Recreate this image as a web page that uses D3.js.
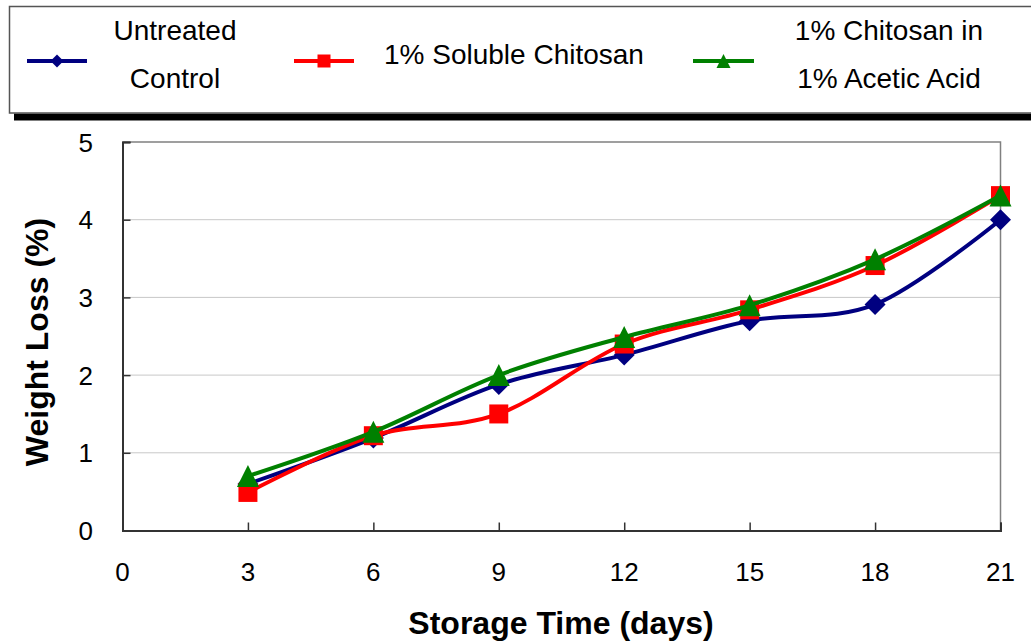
<!DOCTYPE html>
<html>
<head>
<meta charset="utf-8">
<script src="https://cdn.jsdelivr.net/npm/d3@7"></script>
<style>
  body { margin: 0; background: #fff; }
  text { font-family: "Liberation Sans", Arial, sans-serif; }
</style>
</head>
<body>
<div id="chart"></div>
<script>
const days = [3, 6, 9, 12, 15, 18, 21];
const untreated = [0.6, 1.19, 1.88, 2.26, 2.7, 2.91, 4.0];
const soluble = [0.49, 1.22, 1.5, 2.4, 2.84, 3.41, 4.31];
const acetic = [0.7, 1.27, 2.0, 2.49, 2.9, 3.49, 4.31];
const xTicks = [0, 3, 6, 9, 12, 15, 18, 21];
const yTicks = [0, 1, 2, 3, 4, 5];

const W = 1031, H = 644;
const m = { left: 122.5, right: 1000.5, top: 142, bottom: 530.5 };

// excel-like marker shapes
const diamond = {
  draw(ctx, size) {
    const r = Math.sqrt(size) / 2;
    ctx.moveTo(0, -r); ctx.lineTo(r, 0); ctx.lineTo(0, r); ctx.lineTo(-r, 0); ctx.closePath();
  }
};
const square = {
  draw(ctx, size) {
    const r = Math.sqrt(size) / 2;
    ctx.rect(-r, -r, 2 * r, 2 * r);
  }
};
const triangle = {
  draw(ctx, size) {
    const r = Math.sqrt(size) / 2;
    ctx.moveTo(0, -r); ctx.lineTo(r, r); ctx.lineTo(-r, r); ctx.closePath();
  }
};

const series = [
  { name: ["Untreated", "Control"], values: untreated, color: "#000080", shape: diamond, size: 21 * 21, lsize: 13 * 13 },
  { name: ["1% Soluble Chitosan"], values: soluble, color: "#ff0000", shape: square, size: 19 * 19, lsize: 13 * 13 },
  { name: ["1% Chitosan in", "1% Acetic Acid"], values: acetic, color: "#008000", shape: triangle, size: 22 * 22, lsize: 14 * 14 }
];

const svg = d3.select("#chart").append("svg")
    .attr("width", W)
    .attr("height", H);

const x = d3.scaleLinear().domain([0, 21]).range([m.left, m.right]);
const y = d3.scaleLinear().domain([0, 5]).range([m.bottom, m.top]);

// gridlines
svg.append("g")
  .selectAll("line")
  .data(yTicks.filter(d => d > 0 && d < 5))
  .enter().append("line")
    .attr("x1", m.left).attr("x2", m.right)
    .attr("y1", d => y(d)).attr("y2", d => y(d))
    .attr("stroke", "#c8c8c8").attr("stroke-width", 1);

// frame: top & right grey
svg.append("path")
    .attr("d", `M${m.left},${m.top}H${m.right}V${m.bottom}`)
    .attr("fill", "none").attr("stroke", "#808080").attr("stroke-width", 1.5);

// axes with inner ticks
const yAxis = svg.append("g")
    .attr("transform", `translate(${m.left},0)`)
    .call(d3.axisRight(y).tickValues(yTicks).tickSize(8).tickFormat(""));
const xAxis = svg.append("g")
    .attr("transform", `translate(0,${m.bottom})`)
    .call(d3.axisTop(x).tickValues(xTicks).tickSize(8).tickFormat(""));
[yAxis, xAxis].forEach(g => {
  g.select(".domain").attr("stroke", "#333").attr("stroke-width", 2);
  g.selectAll(".tick line").attr("stroke", "#333").attr("stroke-width", 1.5);
});

// tick labels
svg.append("g")
  .selectAll("text")
  .data(yTicks)
  .enter().append("text")
    .attr("x", 93)
    .attr("y", d => y(d) + 9.5)
    .attr("text-anchor", "end")
    .style("font-size", "26px")
    .text(d => d);
svg.append("g")
  .selectAll("text")
  .data(xTicks)
  .enter().append("text")
    .attr("x", d => x(d))
    .attr("y", 581)
    .attr("text-anchor", "middle")
    .style("font-size", "26px")
    .text(d => d);

// axis titles
svg.append("text")
    .attr("x", 561).attr("y", 634)
    .attr("text-anchor", "middle")
    .style("font-size", "32px").style("font-weight", "bold")
    .text("Storage Time (days)");
svg.append("text")
    .attr("transform", "translate(48,342) rotate(-90)")
    .attr("text-anchor", "middle")
    .style("font-size", "32px").style("font-weight", "bold")
    .text("Weight Loss (%)");

// series
const line = d3.line()
    .x((d, i) => x(days[i]))
    .y(d => y(d))
    .curve(d3.curveCardinal.tension(0));

series.forEach(s => {
  const g = svg.append("g");
  g.append("path")
      .attr("d", line(s.values))
      .attr("fill", "none")
      .attr("stroke", s.color)
      .attr("stroke-width", 4)
      .attr("stroke-linejoin", "round");
  g.selectAll("path.mk")
    .data(s.values)
    .enter().append("path")
      .attr("class", "mk")
      .attr("transform", (d, i) => `translate(${x(days[i])},${y(d)})`)
      .attr("d", d3.symbol().type(s.shape).size(s.size))
      .attr("fill", s.color);
});

// legend
const lg = svg.append("g");
lg.append("rect")
    .attr("x", 14).attr("y", 113.5).attr("width", 1030).attr("height", 7)
    .attr("fill", "#000");
lg.append("rect")
    .attr("x", 9.5).attr("y", 6.5).attr("width", 1040).attr("height", 106.5)
    .attr("fill", "#fff").attr("stroke", "#555").attr("stroke-width", 1.5);

const legendItems = [
  { s: series[0], x1: 27, x2: 87, tx: 175, anchor: "middle", lines: [39.5, 87.5] },
  { s: series[1], x1: 294, x2: 354, tx: 384, anchor: "start", lines: [64] },
  { s: series[2], x1: 693, x2: 754, tx: 889, anchor: "middle", lines: [39.5, 87.5] }
];
legendItems.forEach(it => {
  lg.append("line")
      .attr("x1", it.x1).attr("x2", it.x2)
      .attr("y1", 61).attr("y2", 61)
      .attr("stroke", it.s.color).attr("stroke-width", 4);
  lg.append("path")
      .attr("transform", `translate(${(it.x1 + it.x2) / 2},61)`)
      .attr("d", d3.symbol().type(it.s.shape).size(it.s.lsize))
      .attr("fill", it.s.color);
  it.s.name.forEach((t, j) => {
    lg.append("text")
        .attr("x", it.tx).attr("y", it.lines[j])
        .attr("text-anchor", it.anchor)
        .style("font-size", "28px")
        .text(t);
  });
});
</script>
</body>
</html>
